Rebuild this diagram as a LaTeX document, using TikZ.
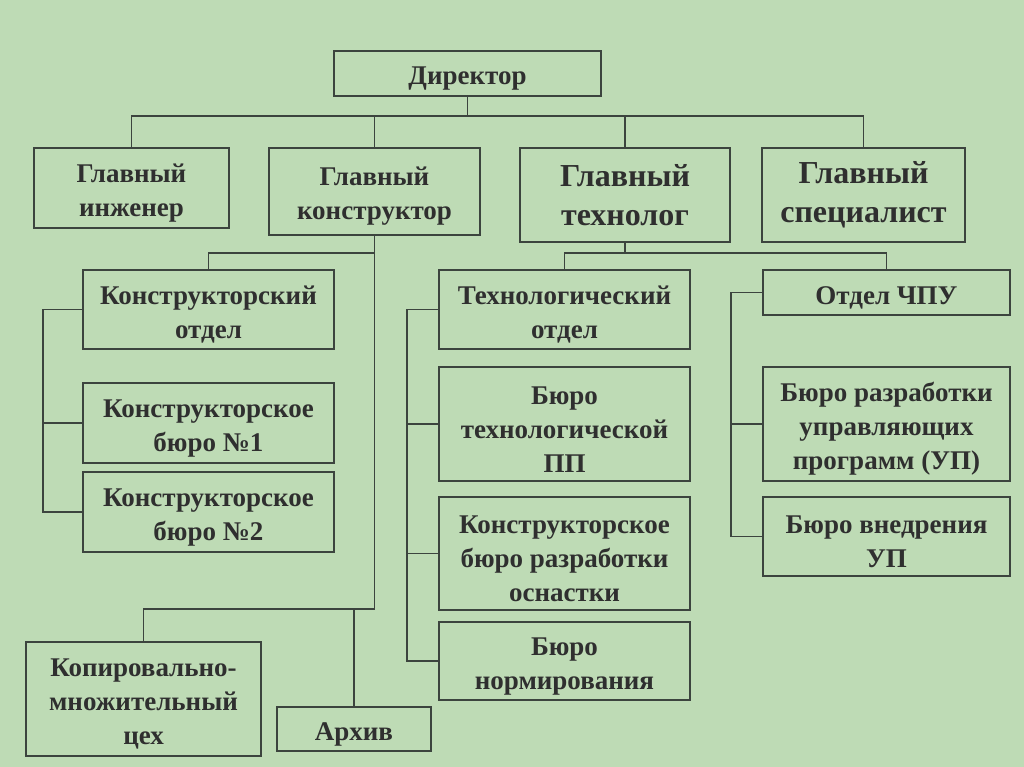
\documentclass[tikz,border=0pt]{standalone}
\usepackage{fontspec}
\setmainfont{Liberation Serif}
\usetikzlibrary{positioning,calc}
\definecolor{orgbg}{HTML}{BEDBB5}
\definecolor{orgln}{HTML}{3C443E}
\definecolor{orgtx}{HTML}{2F2F2F}
\newcommand{\fl}{\rule{0pt}{28pt}}
\tikzset{
  cell/.style={draw=orgln, line width=1.4pt, align=center, inner sep=2pt, text=orgtx},
  box/.style={cell, font=\fontsize{27}{34}\selectfont\bfseries},
  bigbox/.style={cell, font=\fontsize{32}{39}\selectfont\bfseries},
  link/.style={draw=orgln, line width=1.4pt},
}
\begin{document}
\begin{tikzpicture}[x=1pt, y=-1pt]
  \fill[orgbg] (0,0) rectangle (1024,767);
  \useasboundingbox (0,0) rectangle (1024,767);
  % top level
  \node[box, minimum width=267pt, minimum height=45pt] (dir) at (467.5,73.5) {\fl Директор};
  \node[box, minimum width=195pt, minimum height=80pt] (gi) at (131.5,188) {\fl Главный\\инженер};
  \node[box, minimum width=211pt, minimum height=87pt] (gk) at (374.5,191.5) {\fl Главный\\конструктор};
  \node[bigbox, minimum width=210pt, minimum height=94pt] (gt) at (625,195) {Главный\\технолог};
  \node[bigbox, minimum width=203pt, minimum height=94pt] (gs) at (863.5,195) {Главный\\специалист};
  % design branch
  \node[box, minimum width=251pt, minimum height=79pt] (ko) at (208.5,309.5) {\fl Конструкторский\\отдел};
  \node[box, minimum width=251pt, minimum height=80pt] (kb1) at (208.5,423) {\fl Конструкторское\\бюро №1};
  \node[box, minimum width=251pt, minimum height=80pt] (kb2) at (208.5,512) {\fl Конструкторское\\бюро №2};
  \node[box, minimum width=235pt, minimum height=114pt] (kmc) at (143.5,699) {\fl Копировально-\\множительный\\цех};
  \node[box, minimum width=154pt, minimum height=44pt] (arh) at (354,729) {\fl Архив};
  % technology branch
  \node[box, minimum width=251pt, minimum height=79pt] (to) at (564.5,309.5) {\fl Технологический\\отдел};
  \node[box, minimum width=251pt, minimum height=114pt] (btp) at (564.5,424) {\fl Бюро\\технологической\\ПП};
  \node[box, minimum width=251pt, minimum height=113pt] (kbo) at (564.5,553.5) {\fl Конструкторское\\бюро разработки\\оснастки};
  \node[box, minimum width=251pt, minimum height=78pt] (bn) at (564.5,661) {\fl Бюро\\нормирования};
  \node[box, minimum width=247pt, minimum height=45pt] (chpu) at (886.5,292.5) {\fl Отдел ЧПУ};
  \node[box, minimum width=247pt, minimum height=114pt] (bup) at (886.5,424) {\fl Бюро разработки\\управляющих\\программ (УП)};
  \node[box, minimum width=247pt, minimum height=79pt] (bvu) at (886.5,536.5) {\fl Бюро внедрения\\УП};
  % buses
  \coordinate (topbus) at (467.5,116);
  \coordinate (kbus) at (374.5,253);
  \coordinate (lowbus) at (374.5,609);
  \coordinate (tbus) at (625,253);
  \coordinate (kl) at (43,0);
  \coordinate (tl) at (407,0);
  \coordinate (cl) at (731,0);
  \draw[link] (dir) -- (topbus);
  \draw[link] (gi.north) |- (topbus);
  \draw[link] (gs.north) |- (topbus);
  \draw[link] (gk.north) -- (gk.north |- topbus);
  \draw[link] (gt.north) -- (gt.north |- topbus);
  \draw[link] (gk.south) -- (lowbus);
  \draw[link] (ko.north) |- (kbus);
  \draw[link] (kmc.north) |- (lowbus);
  \draw[link] (arh.north) -- (arh.north |- lowbus);
  \draw[link] (ko.west) -- (ko.west -| kl) -- (kb2.west -| kl) -- (kb2.west);
  \draw[link] (kb1.west) -- (kb1.west -| kl);
  \draw[link] (gt.south) -- (tbus);
  \draw[link] (to.north) |- (tbus);
  \draw[link] (chpu.north) |- (tbus);
  \draw[link] (to.west) -- (to.west -| tl) -- (bn.west -| tl) -- (bn.west);
  \draw[link] (btp.west) -- (btp.west -| tl);
  \draw[link] (kbo.west) -- (kbo.west -| tl);
  \draw[link] (chpu.west) -- (chpu.west -| cl) -- (bvu.west -| cl) -- (bvu.west);
  \draw[link] (bup.west) -- (bup.west -| cl);
\end{tikzpicture}
\end{document}
